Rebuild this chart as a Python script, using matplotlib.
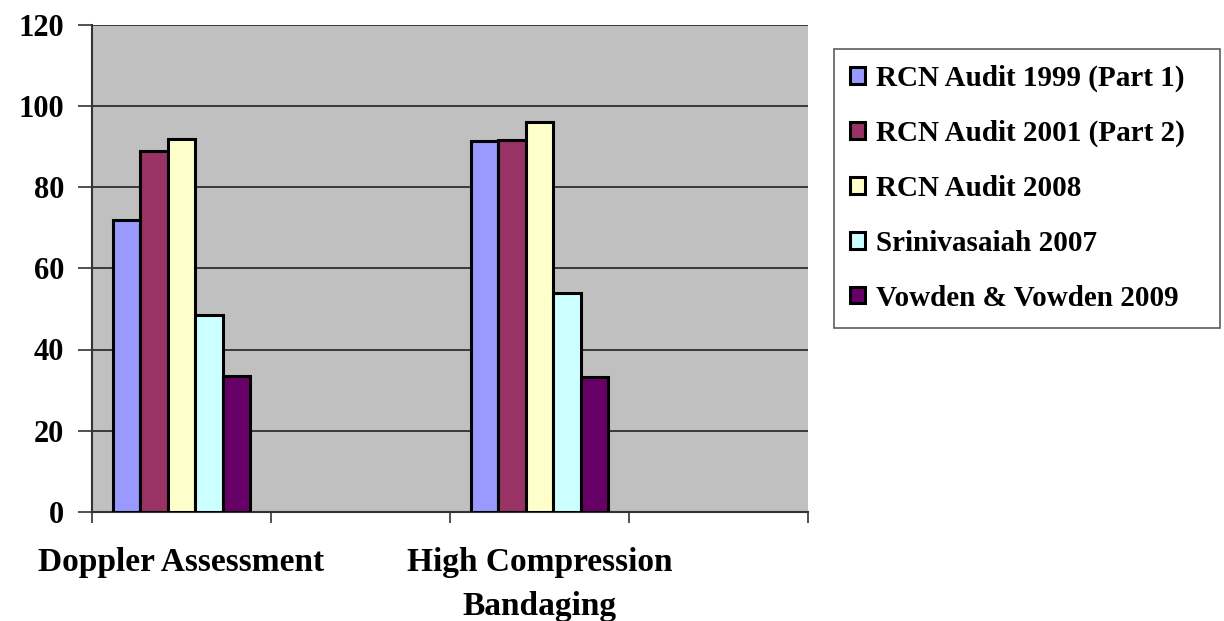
import matplotlib.pyplot as plt
import numpy as np

# category slots (Excel-style, two empty slots)
categories = ["Doppler Assessment", "", "High Compression\nBandaging", ""]
data_slots = [0, 2]

series = ["RCN Audit 1999 (Part 1)", "RCN Audit 2001 (Part 2)", "RCN Audit 2008",
          "Srinivasaiah 2007", "Vowden & Vowden 2009"]
audit_1999 = [72, 91.3]
audit_2001 = [88.8, 91.5]
audit_2008 = [91.8, 96]
srini_2007 = [48.4, 54]
vowden_2009 = [33.5, 33.3]
values = [audit_1999, audit_2001, audit_2008, srini_2007, vowden_2009]
colors = ['#9999FF', '#993366', '#FFFFCC', '#CCFFFF', '#660066']

plt.rcParams['font.family'] = ['Liberation Serif', 'DejaVu Serif']
plt.rcParams['font.weight'] = 'bold'

fig = plt.figure(figsize=(12.24, 6.21), dpi=100)
ax = fig.add_axes([92/1224, 1 - 512/621, (808 - 92)/1224, (512 - 24.5)/621])
ax.set_facecolor('#C0C0C0')

n = len(series)
w = 1.0 / (n + 1.5)
x0 = np.array(data_slots) + 0.75 * w
for i in range(n):
    ax.bar(x0 + i * w, values[i], width=w, align='edge', color=colors[i],
           edgecolor='black', linewidth=2.2, label=series[i], zorder=3)

ax.set_ylim(0, 120)
ax.set_yticks(np.arange(0, 121, 20))
ax.yaxis.grid(True, color='#222222', linewidth=1.2, zorder=0)
ax.set_xlim(0, len(categories))
ax.set_xticks(np.arange(len(categories) + 1))
ax.set_xticklabels([])
ax.set_xticks(np.arange(len(categories)) + 0.5, minor=True)
ax.set_xticklabels(categories, minor=True, fontsize=24, fontweight='bold', linespacing=1.55)
ax.tick_params(axis='x', which='minor', length=0, pad=25)
ax.tick_params(axis='x', which='major', length=8, width=1.2, color='#333333')
ax.tick_params(axis='y', length=10, width=1.2, color='#333333', labelsize=22, pad=10)
for lab in ax.get_yticklabels():
    lab.set_fontweight('bold')

for s in ['top', 'right']:
    ax.spines[s].set_visible(False)
for s in ['left', 'bottom']:
    ax.spines[s].set_color('#333333')
    ax.spines[s].set_linewidth(1.5)

leg = fig.legend(loc='upper left', bbox_to_anchor=(834/1224, 1 - 49/621, (1220 - 834)/1224, 0),
                 mode='expand', fontsize=21, frameon=True, fancybox=False,
                 handlelength=0.5, handleheight=0.5, handletextpad=0.4,
                 labelspacing=0.95, borderpad=0.55, borderaxespad=0)
leg.get_frame().set_edgecolor('#333333')
leg.get_frame().set_linewidth(1.2)
for t in leg.get_texts():
    t.set_fontweight('bold')

fig.savefig('out.png', dpi=100)
